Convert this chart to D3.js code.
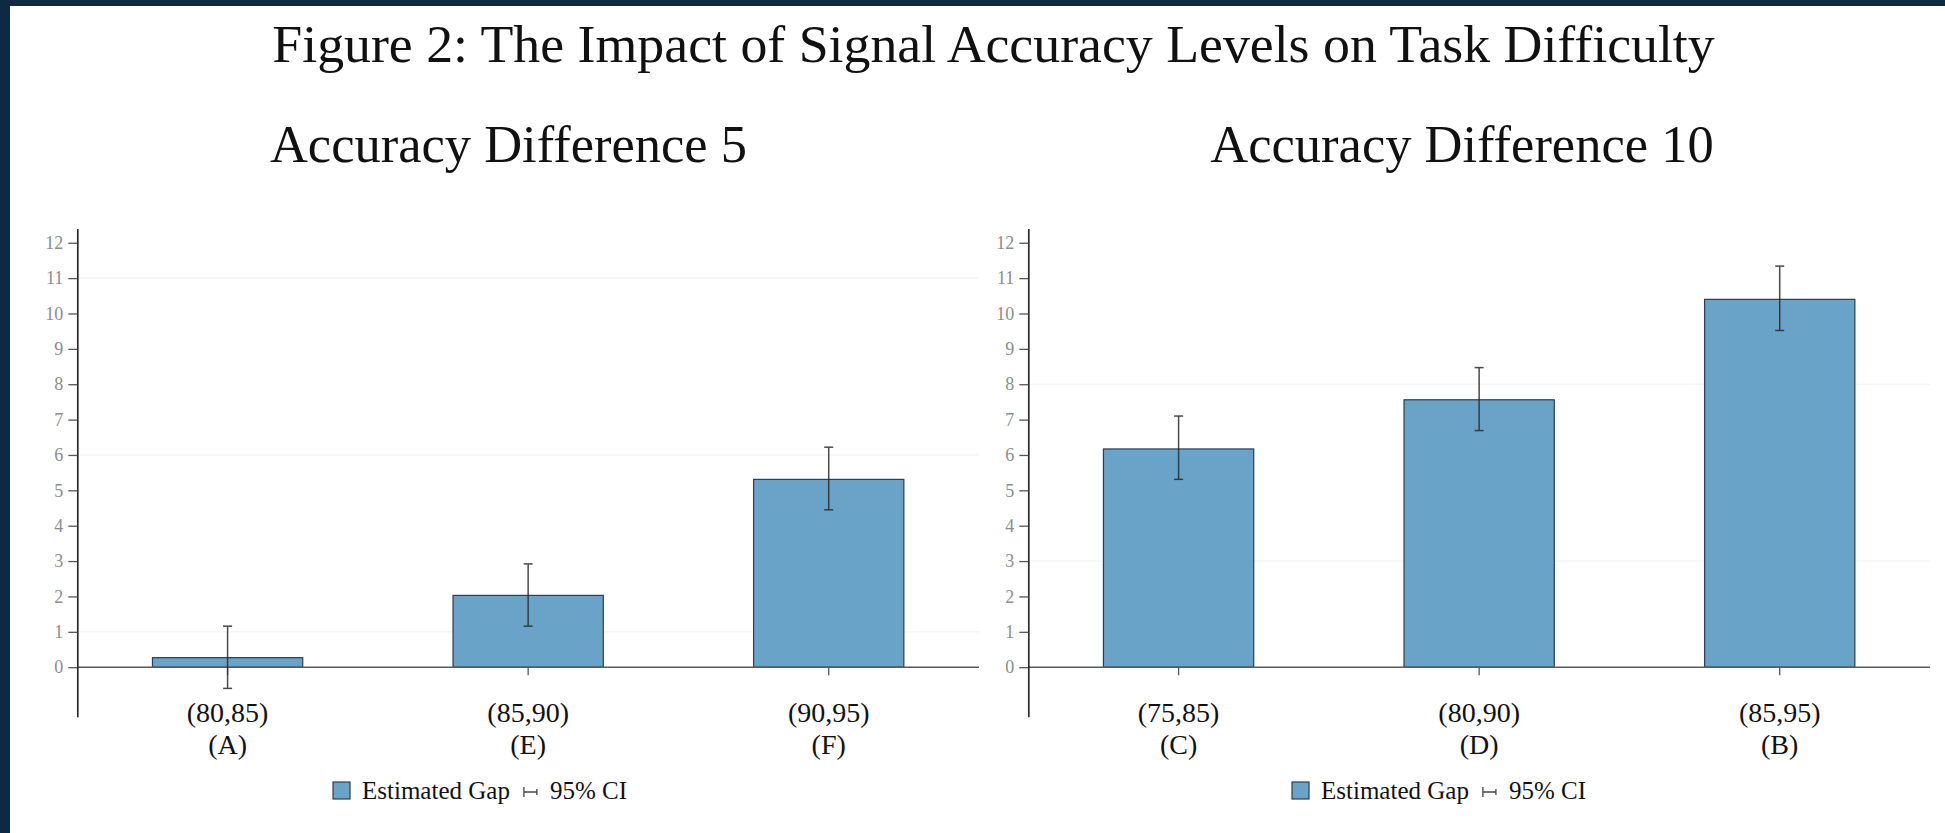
<!DOCTYPE html>
<html>
<head>
<meta charset="utf-8">
<script src="https://cdn.jsdelivr.net/npm/d3@7"></script>
<style>
  body { margin: 0; background: #fff; }
</style>
</head>
<body>
<svg id="fig"></svg>
<script>
// ---------------------------
// DATA
// ---------------------------
var mainTitle = "Figure 2: The Impact of Signal Accuracy Levels on Task Difficulty";
var panelTitles = ["Accuracy Difference 5", "Accuracy Difference 10"];
var legendLabels = ["Estimated Gap", "95% CI"];
var yTickValues = [0, 1, 2, 3, 4, 5, 6, 7, 8, 9, 10, 11, 12];

// left panel: accuracy difference 5
var leftCategories = ["(80,85)", "(85,90)", "(90,95)"];
var leftLetters = ["(A)", "(E)", "(F)"];
var leftGap = [0.27, 2.03, 5.31];
var leftLow = [-0.60, 1.16, 4.45];
var leftHigh = [1.16, 2.92, 6.22];
var leftGrid = [1, 6, 11];

// right panel: accuracy difference 10
var rightCategories = ["(75,85)", "(80,90)", "(85,95)"];
var rightLetters = ["(C)", "(D)", "(B)"];
var rightGap = [6.17, 7.56, 10.40];
var rightLow = [5.31, 6.69, 9.52];
var rightHigh = [7.10, 8.47, 11.34];
var rightGrid = [3, 8];

// ---------------------------
// CONSTANTS
// ---------------------------
var W = 1945, H = 833;
var serif = "'Liberation Serif', 'Times New Roman', serif";
var navy = "#0f2942";
var barFill = "#6aa3c8";
var barStroke = "#2c3e50";
var ciColour = "#2b2b2b";

var svg = d3.select("#fig").attr("width", W).attr("height", H);

svg.append("rect").attr("width", W).attr("height", H).attr("fill", "#fff");
// dark frame, top and left
svg.append("rect").attr("x", 0).attr("y", 0).attr("width", W).attr("height", 6).attr("fill", navy);
svg.append("rect").attr("x", 0).attr("y", 0).attr("width", 10).attr("height", H).attr("fill", navy);

// shared y scale
var y = d3.scaleLinear().domain([-1.4, 12.4]).range([716.7, 228.6]);

// main title, fitted to its measured width
var titleText = svg.append("text")
  .attr("x", 993.5)
  .attr("y", 62)
  .attr("text-anchor", "middle")
  .attr("font-family", serif)
  .attr("font-size", 50)
  .attr("fill", "#111")
  .text(mainTitle);
var tw = titleText.node().getComputedTextLength();
titleText.attr("font-size", 50 * 1443 / tw);

// ---------------------------
// PANEL
// ---------------------------
function drawPanel(p) {
  var g = svg.append("g");

  var x = d3.scaleBand()
    .domain(p.categories)
    .range([p.x0, p.x1])
    .paddingInner(0.5)
    .paddingOuter(0.25);

  // panel title
  g.append("text")
    .attr("x", p.titleX)
    .attr("y", 162)
    .attr("text-anchor", "middle")
    .attr("font-family", serif)
    .attr("font-size", 52.5)
    .attr("fill", "#111")
    .text(p.title);

  // faint grid
  g.append("g").selectAll("line")
    .data(p.grid)
    .enter()
    .append("line")
    .attr("x1", p.x0).attr("x2", p.x1)
    .attr("y1", function(d) { return y(d); })
    .attr("y2", function(d) { return y(d); })
    .attr("stroke", "#f0f0f0")
    .attr("stroke-width", 1);

  // bars
  g.append("g").selectAll("rect")
    .data(p.gap)
    .enter()
    .append("rect")
    .attr("x", function(d, i) { return x(p.categories[i]); })
    .attr("y", function(d) { return y(d); })
    .attr("width", x.bandwidth())
    .attr("height", function(d) { return y(0) - y(d); })
    .attr("fill", barFill)
    .attr("stroke", barStroke)
    .attr("stroke-width", 1.2);

  // zero line
  g.append("line")
    .attr("x1", p.x0).attr("x2", p.x1)
    .attr("y1", y(0)).attr("y2", y(0))
    .attr("stroke", "#5a5a5a")
    .attr("stroke-width", 1.5);

  // x ticks (labels drawn separately, two lines)
  var xAxis = g.append("g")
    .attr("transform", "translate(0," + y(0) + ")")
    .call(d3.axisBottom(x).tickSize(8).tickSizeOuter(0).tickFormat(""));
  xAxis.select(".domain").remove();
  xAxis.selectAll(".tick line").attr("stroke", "#555").attr("stroke-width", 1.3);

  // y axis
  var yAxis = g.append("g")
    .attr("transform", "translate(" + p.x0 + ",0)")
    .call(d3.axisLeft(y).tickValues(yTickValues).tickSize(9).tickSizeOuter(0).tickPadding(5));
  yAxis.select(".domain").attr("stroke", "#2a2a2a").attr("stroke-width", 1.7);
  yAxis.selectAll(".tick line").attr("stroke", "#555").attr("stroke-width", 1.3);
  yAxis.selectAll(".tick text")
    .attr("fill", "#8c8c8c")
    .attr("font-family", serif)
    .attr("font-size", 18);

  // error bars
  var ci = g.append("g").selectAll("g")
    .data(p.gap)
    .enter()
    .append("g")
    .attr("stroke", ciColour)
    .attr("stroke-width", 1.5)
    .attr("opacity", 0.85);
  ci.append("line")
    .attr("x1", function(d, i) { return x(p.categories[i]) + x.bandwidth() / 2; })
    .attr("x2", function(d, i) { return x(p.categories[i]) + x.bandwidth() / 2; })
    .attr("y1", function(d, i) { return y(p.low[i]); })
    .attr("y2", function(d, i) { return y(p.high[i]); });
  ci.append("line")
    .attr("x1", function(d, i) { return x(p.categories[i]) + x.bandwidth() / 2 - 4.5; })
    .attr("x2", function(d, i) { return x(p.categories[i]) + x.bandwidth() / 2 + 4.5; })
    .attr("y1", function(d, i) { return y(p.high[i]); })
    .attr("y2", function(d, i) { return y(p.high[i]); });
  ci.append("line")
    .attr("x1", function(d, i) { return x(p.categories[i]) + x.bandwidth() / 2 - 4.5; })
    .attr("x2", function(d, i) { return x(p.categories[i]) + x.bandwidth() / 2 + 4.5; })
    .attr("y1", function(d, i) { return y(p.low[i]); })
    .attr("y2", function(d, i) { return y(p.low[i]); });

  // category labels
  var labels = g.append("g").selectAll("text")
    .data(p.categories)
    .enter()
    .append("text")
    .attr("text-anchor", "middle")
    .attr("font-family", serif)
    .attr("font-size", 28)
    .attr("fill", "#111");
  labels.append("tspan")
    .attr("x", function(d) { return x(d) + x.bandwidth() / 2; })
    .attr("y", 722)
    .text(function(d) { return d; });
  labels.append("tspan")
    .attr("x", function(d) { return x(d) + x.bandwidth() / 2; })
    .attr("y", 754)
    .text(function(d, i) { return p.letters[i]; });

  // legend
  var leg = g.append("g");
  var sq = leg.append("rect")
    .attr("width", 17).attr("height", 17)
    .attr("y", 782)
    .attr("fill", barFill)
    .attr("stroke", barStroke)
    .attr("stroke-width", 1.2);
  var t1 = leg.append("text")
    .attr("y", 799)
    .attr("font-family", serif)
    .attr("font-size", 25)
    .attr("fill", "#111")
    .text(legendLabels[0]);
  var t2 = leg.append("text")
    .attr("y", 799)
    .attr("font-family", serif)
    .attr("font-size", 25)
    .attr("fill", "#111")
    .text(legendLabels[1]);
  var w1 = t1.node().getComputedTextLength();
  var w2 = t2.node().getComputedTextLength();
  var total = 17 + 12 + w1 + 14 + 13 + 13 + w2;
  var lx = p.legendX - total / 2;
  sq.attr("x", lx);
  t1.attr("x", lx + 29);
  var sx = lx + 29 + w1 + 14;
  leg.append("path")
    .attr("d", "M" + sx + ",787V797M" + sx + ",792H" + (sx + 13) + "M" + (sx + 13) + ",789V795")
    .attr("stroke", "#444")
    .attr("stroke-width", 1.3)
    .attr("fill", "none");
  t2.attr("x", sx + 13 + 13);
}

drawPanel({
  categories: leftCategories, letters: leftLetters,
  gap: leftGap, low: leftLow, high: leftHigh, grid: leftGrid,
  title: panelTitles[0], titleX: 508.5, legendX: 480,
  x0: 77.3, x1: 979
});

drawPanel({
  categories: rightCategories, letters: rightLetters,
  gap: rightGap, low: rightLow, high: rightHigh, grid: rightGrid,
  title: panelTitles[1], titleX: 1462, legendX: 1439,
  x0: 1028.3, x1: 1930
});
</script>
</body>
</html>
